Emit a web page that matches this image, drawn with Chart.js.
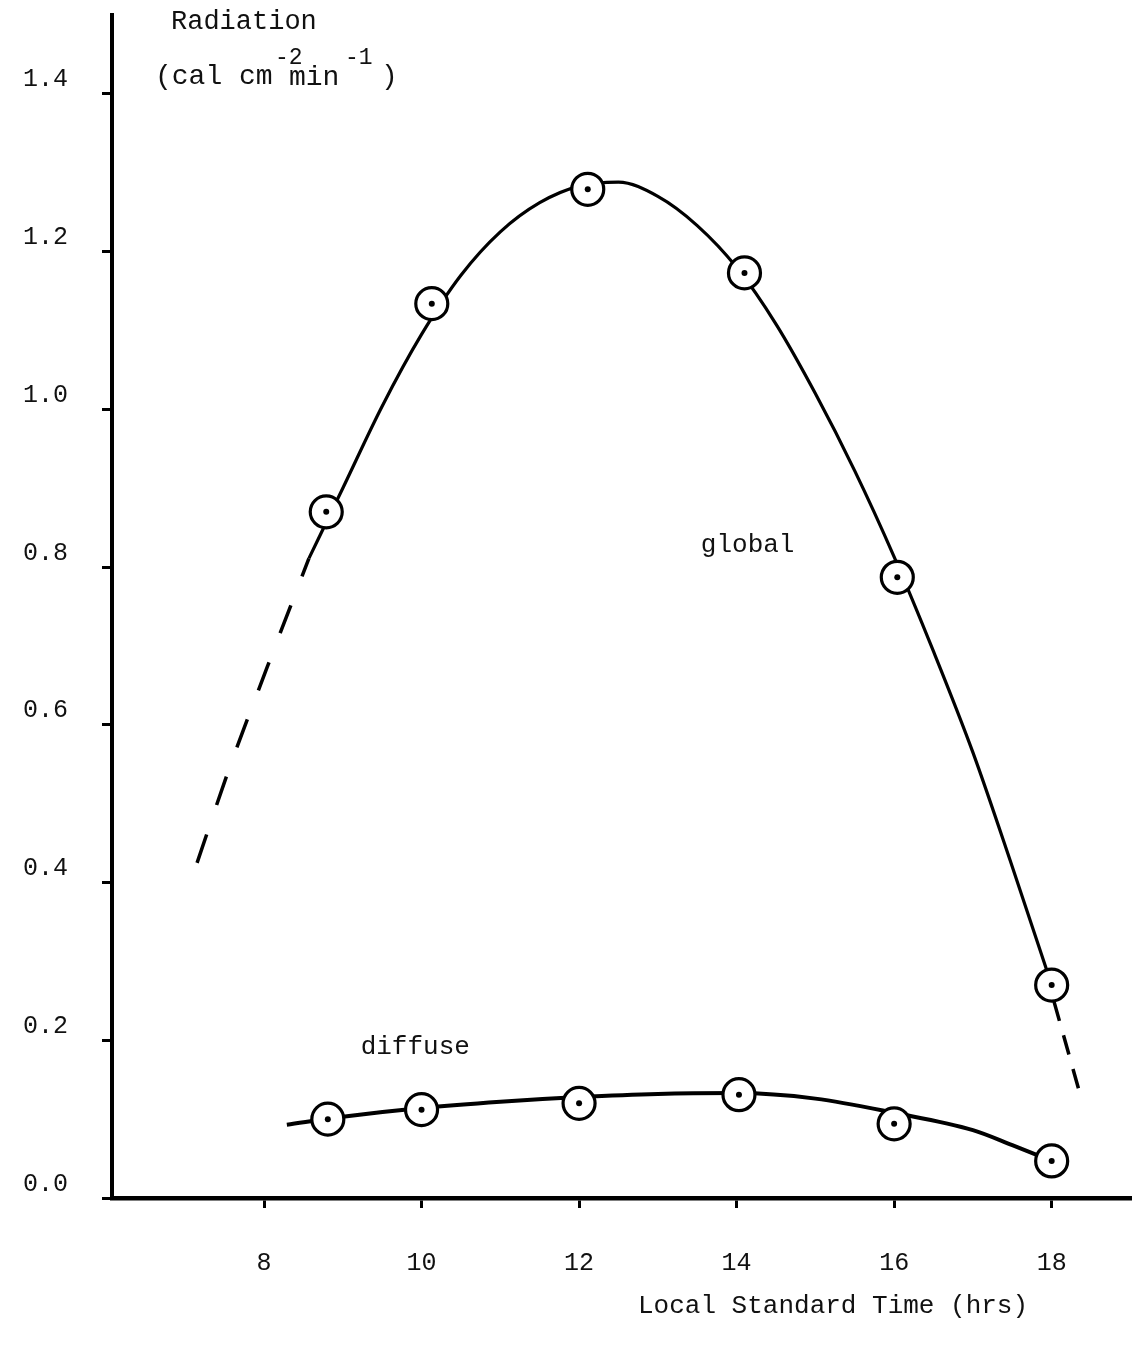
<!DOCTYPE html>
<html>
<head>
<meta charset="utf-8">
<title>Radiation</title>
<script src="https://cdn.jsdelivr.net/npm/chart.js@4/dist/chart.umd.min.js"></script>
<style>
  body { margin: 0; background: #fff; }
  canvas { display: block; }
</style>
</head>
<body>
<canvas id="radiationChart" width="1132" height="1351"></canvas>
<script>
// Ejes
const xTicks = [8, 10, 12, 14, 16, 18];
const yTicks = [0, 0.2, 0.4, 0.6, 0.8, 1.0, 1.2, 1.4];

// Puntos medidos (circulos)
const globalHours = [8.79, 10.13, 12.11, 14.10, 16.04, 18.0];
const globalValues = [0.870, 1.134, 1.279, 1.173, 0.787, 0.270];
const diffuseHours = [8.81, 10.0, 12.0, 14.03, 16.0, 18.0];
const diffuseValues = [0.100, 0.112, 0.120, 0.131, 0.094, 0.047];

// Curva ajustada
const globalCurveHours = [8.57, 9.0, 9.5, 10.0, 10.5, 11.0, 11.5, 12.0, 12.5, 13.0, 13.5, 14.0, 14.5, 15.0, 15.5, 16.0, 16.5, 17.0, 17.5, 18.0];
const globalCurveValues = [0.811, 0.900, 1.004, 1.095, 1.170, 1.225, 1.262, 1.283, 1.288, 1.270, 1.233, 1.180, 1.108, 1.020, 0.922, 0.813, 0.693, 0.565, 0.420, 0.270];
const diffuseCurveHours = [8.29, 9.0, 10.0, 11.0, 12.0, 13.0, 14.0, 15.0, 16.0, 17.0, 17.5, 18.0];
const diffuseCurveValues = [0.093, 0.103, 0.114, 0.122, 0.128, 0.132, 0.133, 0.126, 0.108, 0.086, 0.067, 0.047];

// Extrapolaciones a trazos
const globalEarlyHours = [7.15, 7.56, 8.04, 8.57];
const globalEarlyValues = [0.425, 0.545, 0.673, 0.811];
const globalLateHours = [18.03, 18.34];
const globalLateValues = [0.249, 0.139];

const FONT = '"Liberation Mono", "DejaVu Sans Mono", monospace';

function toPoints(xs, ys) {
    return xs.map((x, i) => ({ x: x, y: ys[i] }));
}

function curve(xs, ys, width, dash) {
    return {
        type: 'line',
        data: toPoints(xs, ys),
        borderColor: '#000',
        borderWidth: width,
        borderDash: dash || [],
        pointRadius: 0,
        cubicInterpolationMode: 'monotone',
        fill: false,
        order: 2
    };
}

function circles(xs, ys) {
    return {
        data: toPoints(xs, ys),
        pointRadius: 16,
        pointBorderWidth: 3.2,
        pointBorderColor: '#000',
        pointBackgroundColor: '#fff',
        order: 1
    };
}

function dots(xs, ys) {
    return {
        data: toPoints(xs, ys),
        pointRadius: 3,
        pointBorderWidth: 0,
        pointBackgroundColor: '#000',
        order: 0
    };
}

// Textos del grafico (titulos y rotulos de las curvas)
const textPlugin = {
    id: 'textos',
    afterDraw(chart) {
        const c = chart.ctx;
        const xs = chart.scales.x;
        const ys = chart.scales.y;
        c.save();
        c.fillStyle = '#111';
        c.textBaseline = 'alphabetic';
        c.textAlign = 'left';
        c.font = '27px ' + FONT;
        c.fillText('Radiation', 171, 29);
        c.font = '28px ' + FONT;
        c.fillText('(cal cm', 155, 84);
        c.fillText('min', 289, 85);
        c.fillText(')', 381, 84);
        c.font = '23px ' + FONT;
        c.fillText('-2', 275, 64);
        c.fillText('-1', 345, 64);

        c.font = '26px ' + FONT;
        c.textAlign = 'center';
        c.textBaseline = 'middle';
        c.fillText('global', xs.getPixelForValue(14.14), ys.getPixelForValue(0.828));
        c.fillText('diffuse', xs.getPixelForValue(9.92), ys.getPixelForValue(0.191));
        c.textAlign = 'left';
        c.fillText('Local Standard Time (hrs)', 638, 1306);
        c.restore();
    }
};

const ctx = document.getElementById('radiationChart').getContext('2d');

new Chart(ctx, {
    type: 'scatter',
    data: {
        datasets: [
            dots(globalHours, globalValues),
            dots(diffuseHours, diffuseValues),
            circles(globalHours, globalValues),
            circles(diffuseHours, diffuseValues),
            curve(globalCurveHours, globalCurveValues, 3.2),
            curve(diffuseCurveHours, diffuseCurveValues, 4),
            curve(globalEarlyHours, globalEarlyValues, 3.5, [30, 31]),
            curve(globalLateHours, globalLateValues, 3.5, [20, 15])
        ]
    },
    options: {
        responsive: false,
        animation: false,
        events: [],
        layout: { autoPadding: false, padding: { top: 15, left: 0, right: 0, bottom: 0 } },
        plugins: {
            legend: { display: false },
            tooltip: { enabled: false }
        },
        scales: {
            x: {
                type: 'linear',
                min: 6.07,
                max: 19.02,
                afterBuildTicks: scale => { scale.ticks = xTicks.map(v => ({ value: v })); },
                afterFit: scale => {
                    scale.height = 153;
                    scale.paddingLeft = 0;
                    scale.paddingRight = 0;
                },
                border: { display: true, color: '#000', width: 4.5 },
                grid: { drawOnChartArea: false, drawTicks: true, tickLength: 10, tickWidth: 3, tickColor: '#000' },
                ticks: {
                    autoSkip: false,
                    maxRotation: 0,
                    padding: 40,
                    color: '#111',
                    font: { family: FONT, size: 25 },
                    callback: v => String(v)
                }
            },
            y: {
                type: 'linear',
                min: 0,
                max: 1.5,
                afterBuildTicks: scale => { scale.ticks = yTicks.map(v => ({ value: v })); },
                afterFit: scale => {
                    scale.width = 112;
                    scale.paddingTop = 0;
                    scale.paddingBottom = 0;
                },
                border: { display: true, color: '#000', width: 4 },
                grid: { drawOnChartArea: false, drawTicks: true, tickLength: 10, tickWidth: 3, tickColor: '#000' },
                ticks: {
                    padding: 34,
                    labelOffset: -14,
                    color: '#111',
                    font: { family: FONT, size: 25 },
                    callback: v => Number(v).toFixed(1)
                }
            }
        }
    },
    plugins: [textPlugin]
});
</script>
</body>
</html>
